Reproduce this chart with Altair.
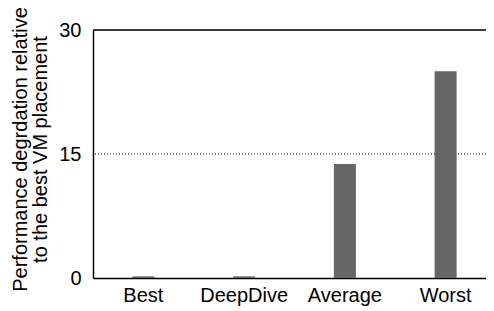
import altair as alt
import pandas as pd

categories = ["Best", "DeepDive", "Average", "Worst"]
values = [0.2, 0.2, 13.8, 25.0]
y_ticks = [0, 15, 30]
dotted_levels = [15]
solid_levels = [30]
y_title = ["Performance degrdation relative", "to the best VM placement"]

df = pd.DataFrame({"cat": categories, "val": values})
df_dot = pd.DataFrame({"lvl": dotted_levels})
df_solid = pd.DataFrame({"lvl": solid_levels})

FONT = "Liberation Sans"
ysc = alt.Scale(domain=[0, 30], nice=False)

bars = alt.Chart(df).mark_bar(color="#666666", size=22).encode(
    x=alt.X("cat:N", sort=categories, title=None,
            scale=alt.Scale(paddingInner=0, paddingOuter=0, range=[0, 403]),
            axis=alt.Axis(labelAngle=0, labelFontSize=20, labelFont=FONT, labelColor="black",
                          ticks=False, labelPadding=7, domainColor="black", domainWidth=1.5,
                          grid=False)),
    y=alt.Y("val:Q", title=y_title, scale=ysc,
            axis=alt.Axis(values=y_ticks, labelFontSize=20, labelFont=FONT, labelColor="black",
                          ticks=False, labelPadding=12, domainColor="black", domainWidth=1.5,
                          grid=False,
                          titleFontSize=20, titleFont=FONT, titleFontWeight="normal", titleColor="black",
                          titleLineHeight=20, titleX=-83, titleY=119, titleBaseline="top",
                          titleAlign="center", titleAngle=270)),
)

dots = alt.Chart(df_dot).mark_rule(color="black", strokeWidth=1, strokeDash=[1, 2]).encode(
    y=alt.Y("lvl:Q", scale=ysc)
)
top = alt.Chart(df_solid).mark_rule(color="black", strokeWidth=1.5).encode(
    y=alt.Y("lvl:Q", scale=ysc)
)

chart = alt.layer(dots, top, bars).properties(
    width=393, height=248,
    autosize=alt.AutoSizeParams(type="none"),
    padding={"left": 85, "top": 22, "right": 0, "bottom": 30},
).configure_view(stroke=None).configure(background="white")

chart.save("out.html", embed_options={"renderer": "svg", "actions": False})
